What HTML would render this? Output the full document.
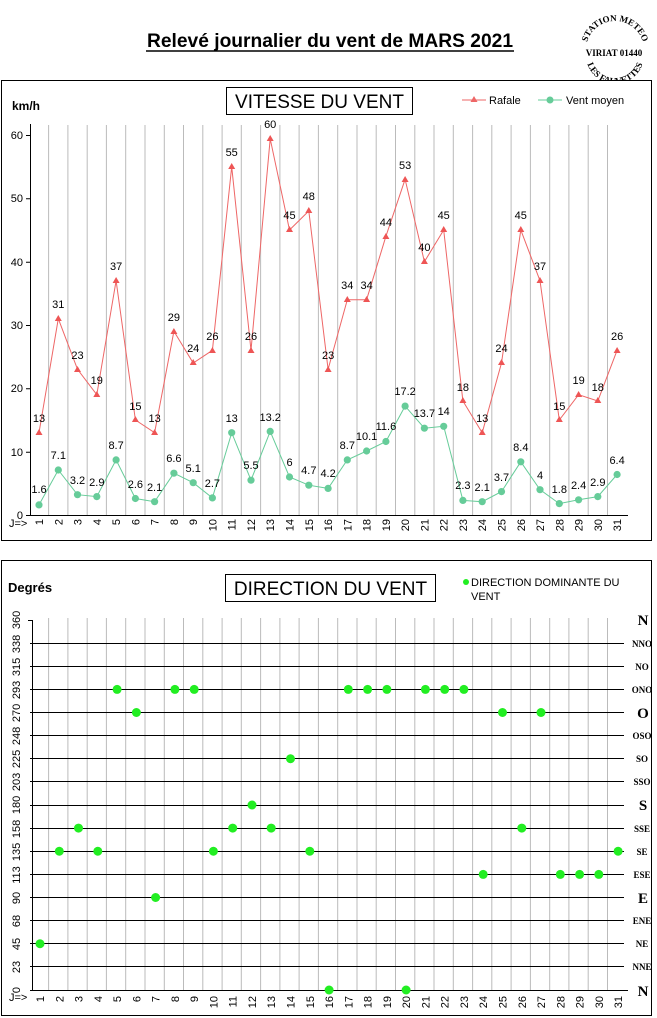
<!DOCTYPE html>
<html><head><meta charset="utf-8"><style>
body{margin:0;background:#fff;width:657px;height:1018px;overflow:hidden}
svg{display:block;font-family:"Liberation Sans",sans-serif}
</style></head><body>
<svg width="657" height="1018" viewBox="0 0 657 1018">
<text x="330" y="47" text-anchor="middle" font-size="19" font-weight="bold" textLength="366" lengthAdjust="spacingAndGlyphs">Relevé journalier du vent de MARS 2021</text>
<line x1="146" y1="51" x2="514" y2="51" stroke="#000" stroke-width="1.5"/>
<!-- stamp -->
<g font-family="Liberation Serif,serif" font-weight="bold" font-size="9">
<path id="arcT" d="M586 50 A29 29 0 0 1 644 50" fill="none"/>
<path id="arcB" d="M586 55 A29 29 0 0 0 644 55" fill="none"/>
<text><textPath href="#arcT" startOffset="50%" text-anchor="middle">STATION METEO</textPath></text>
<text><textPath href="#arcB" startOffset="50%" text-anchor="middle">LES FAUVETTES</textPath></text>
<text x="614" y="56" text-anchor="middle" font-size="9">VIRIAT 01440</text>
</g>
<!-- top box -->
<rect x="1.5" y="80.5" width="650" height="460" fill="#fff" stroke="#000"/>
<text x="12" y="110" font-size="12" font-weight="bold">km/h</text>
<rect x="226.5" y="87.5" width="186" height="27" fill="#fff" stroke="#000"/>
<text x="319.5" y="108" text-anchor="middle" font-size="19">VITESSE DU VENT</text>
<line x1="462" y1="100" x2="486" y2="100" stroke="#e66"/><path d="M474 96l3.5 6h-7z" fill="#e66"/>
<text x="489" y="104" font-size="11">Rafale</text>
<line x1="538" y1="100" x2="562" y2="100" stroke="#6c9"/><circle cx="550" cy="100" r="3.5" fill="#6c9"/>
<text x="566" y="104" font-size="11">Vent moyen</text>
<path d="M48.6 125V515M67.9 125V515M87.2 125V515M106.4 125V515M125.7 125V515M145 125V515M164.3 125V515M183.5 125V515M202.8 125V515M222.1 125V515M241.3 125V515M260.6 125V515M279.9 125V515M299.1 125V515M318.4 125V515M337.7 125V515M357 125V515M376.2 125V515M395.5 125V515M414.8 125V515M434 125V515M453.3 125V515M472.6 125V515M491.8 125V515M511.1 125V515M530.4 125V515M549.7 125V515M568.9 125V515M588.2 125V515M607.5 125V515" stroke="#bbb" stroke-width="1"/>
<path d="M30.5 124V515.5H628M26 515.5h4M26 452.2h4M26 388.8h4M26 325.5h4M26 262.2h4M26 198.8h4M26 135.5h4" stroke="#000" fill="none"/>
<g font-size="11" text-anchor="end"><text x="23" y="519">0</text><text x="23" y="456">10</text><text x="23" y="392">20</text><text x="23" y="329">30</text><text x="23" y="266">40</text><text x="23" y="202">50</text><text x="23" y="139">60</text></g>
<polyline fill="none" stroke="#e66" points="39,432.7 58.3,318.7 77.5,369.3 96.8,394.7 116.1,280.7 135.4,420 154.6,432.7 173.9,331.3 193.2,363 212.4,350.3 231.7,166.7 251,350.3 270.2,138.8 289.5,230 308.8,211 328.1,369.3 347.3,299.7 366.6,299.7 385.9,236.3 405.1,179.3 424.4,261.7 443.7,230 462.9,401 482.2,432.7 501.5,363 520.8,230 540,280.7 559.3,420 578.6,394.7 597.8,401 617.1,350.3"/>
<g fill="#e55">
<path d="M39 429l3.5 6h-7z"/><path d="M58.3 315l3.5 6h-7z"/><path d="M77.5 366l3.5 6h-7z"/><path d="M96.8 391l3.5 6h-7z"/><path d="M116.1 277l3.5 6h-7z"/><path d="M135.4 416l3.5 6h-7z"/><path d="M154.6 429l3.5 6h-7z"/><path d="M173.9 328l3.5 6h-7z"/><path d="M193.2 359l3.5 6h-7z"/><path d="M212.4 347l3.5 6h-7z"/><path d="M231.7 163l3.5 6h-7z"/><path d="M251 347l3.5 6h-7z"/><path d="M270.2 135l3.5 6h-7z"/><path d="M289.5 226l3.5 6h-7z"/><path d="M308.8 207l3.5 6h-7z"/><path d="M328.1 366l3.5 6h-7z"/><path d="M347.3 296l3.5 6h-7z"/><path d="M366.6 296l3.5 6h-7z"/><path d="M385.9 233l3.5 6h-7z"/><path d="M405.1 176l3.5 6h-7z"/><path d="M424.4 258l3.5 6h-7z"/><path d="M443.7 226l3.5 6h-7z"/><path d="M462.9 397l3.5 6h-7z"/><path d="M482.2 429l3.5 6h-7z"/><path d="M501.5 359l3.5 6h-7z"/><path d="M520.8 226l3.5 6h-7z"/><path d="M540 277l3.5 6h-7z"/><path d="M559.3 416l3.5 6h-7z"/><path d="M578.6 391l3.5 6h-7z"/><path d="M597.8 397l3.5 6h-7z"/><path d="M617.1 347l3.5 6h-7z"/>
</g>
<g font-size="11" text-anchor="middle">
<text x="39" y="422">13</text><text x="58.3" y="308">31</text><text x="77.5" y="359">23</text><text x="96.8" y="384">19</text><text x="116.1" y="270">37</text><text x="135.4" y="410">15</text><text x="154.6" y="422">13</text><text x="173.9" y="321">29</text><text x="193.2" y="352">24</text><text x="212.4" y="340">26</text><text x="231.7" y="156">55</text><text x="251" y="340">26</text><text x="270.2" y="128">60</text><text x="289.5" y="219">45</text><text x="308.8" y="200">48</text><text x="328.1" y="359">23</text><text x="347.3" y="289">34</text><text x="366.6" y="289">34</text><text x="385.9" y="226">44</text><text x="405.1" y="169">53</text><text x="424.4" y="251">40</text><text x="443.7" y="219">45</text><text x="462.9" y="391">18</text><text x="482.2" y="422">13</text><text x="501.5" y="352">24</text><text x="520.8" y="219">45</text><text x="540" y="270">37</text><text x="559.3" y="410">15</text><text x="578.6" y="384">19</text><text x="597.8" y="391">18</text><text x="617.1" y="340">26</text>
</g>
<polyline fill="none" stroke="#6c9" points="39,504.9 58.3,470 77.5,494.7 96.8,496.6 116.1,459.9 135.4,498.5 154.6,501.7 173.9,473.2 193.2,482.7 212.4,497.9 231.7,432.7 251,480.2 270.2,431.4 289.5,477 308.8,485.2 328.1,488.4 347.3,459.9 366.6,451 385.9,441.5 405.1,406.1 424.4,428.2 443.7,426.3 462.9,500.4 482.2,501.7 501.5,491.6 520.8,461.8 540,489.7 559.3,503.6 578.6,499.8 597.8,496.6 617.1,474.5"/>
<g fill="#6c9">
<circle cx="39" cy="504.9" r="3.6"/><circle cx="58.3" cy="470" r="3.6"/><circle cx="77.5" cy="494.7" r="3.6"/><circle cx="96.8" cy="496.6" r="3.6"/><circle cx="116.1" cy="459.9" r="3.6"/><circle cx="135.4" cy="498.5" r="3.6"/><circle cx="154.6" cy="501.7" r="3.6"/><circle cx="173.9" cy="473.2" r="3.6"/><circle cx="193.2" cy="482.7" r="3.6"/><circle cx="212.4" cy="497.9" r="3.6"/><circle cx="231.7" cy="432.7" r="3.6"/><circle cx="251" cy="480.2" r="3.6"/><circle cx="270.2" cy="431.4" r="3.6"/><circle cx="289.5" cy="477" r="3.6"/><circle cx="308.8" cy="485.2" r="3.6"/><circle cx="328.1" cy="488.4" r="3.6"/><circle cx="347.3" cy="459.9" r="3.6"/><circle cx="366.6" cy="451" r="3.6"/><circle cx="385.9" cy="441.5" r="3.6"/><circle cx="405.1" cy="406.1" r="3.6"/><circle cx="424.4" cy="428.2" r="3.6"/><circle cx="443.7" cy="426.3" r="3.6"/><circle cx="462.9" cy="500.4" r="3.6"/><circle cx="482.2" cy="501.7" r="3.6"/><circle cx="501.5" cy="491.6" r="3.6"/><circle cx="520.8" cy="461.8" r="3.6"/><circle cx="540" cy="489.7" r="3.6"/><circle cx="559.3" cy="503.6" r="3.6"/><circle cx="578.6" cy="499.8" r="3.6"/><circle cx="597.8" cy="496.6" r="3.6"/><circle cx="617.1" cy="474.5" r="3.6"/>
</g>
<g font-size="11" text-anchor="middle">
<text x="39" y="493">1.6</text><text x="58.3" y="459">7.1</text><text x="77.5" y="484">3.2</text><text x="96.8" y="486">2.9</text><text x="116.1" y="449">8.7</text><text x="135.4" y="488">2.6</text><text x="154.6" y="491">2.1</text><text x="173.9" y="462">6.6</text><text x="193.2" y="472">5.1</text><text x="212.4" y="487">2.7</text><text x="231.7" y="422">13</text><text x="251" y="469">5.5</text><text x="270.2" y="421">13.2</text><text x="289.5" y="466">6</text><text x="308.8" y="474">4.7</text><text x="328.1" y="477">4.2</text><text x="347.3" y="449">8.7</text><text x="366.6" y="440">10.1</text><text x="385.9" y="430">11.6</text><text x="405.1" y="395">17.2</text><text x="424.4" y="417">13.7</text><text x="443.7" y="415">14</text><text x="462.9" y="489">2.3</text><text x="482.2" y="491">2.1</text><text x="501.5" y="481">3.7</text><text x="520.8" y="451">8.4</text><text x="540" y="479">4</text><text x="559.3" y="493">1.8</text><text x="578.6" y="489">2.4</text><text x="597.8" y="486">2.9</text><text x="617.1" y="464">6.4</text>
</g>
<text x="9" y="527" font-size="11">J=&gt;</text>
<g font-size="11" text-anchor="end">
<text transform="translate(43,519) rotate(-90)">1</text><text transform="translate(62.3,519) rotate(-90)">2</text><text transform="translate(81.5,519) rotate(-90)">3</text><text transform="translate(100.8,519) rotate(-90)">4</text><text transform="translate(120.1,519) rotate(-90)">5</text><text transform="translate(139.4,519) rotate(-90)">6</text><text transform="translate(158.6,519) rotate(-90)">7</text><text transform="translate(177.9,519) rotate(-90)">8</text><text transform="translate(197.2,519) rotate(-90)">9</text><text transform="translate(216.4,519) rotate(-90)">10</text><text transform="translate(235.7,519) rotate(-90)">11</text><text transform="translate(255,519) rotate(-90)">12</text><text transform="translate(274.2,519) rotate(-90)">13</text><text transform="translate(293.5,519) rotate(-90)">14</text><text transform="translate(312.8,519) rotate(-90)">15</text><text transform="translate(332.1,519) rotate(-90)">16</text><text transform="translate(351.3,519) rotate(-90)">17</text><text transform="translate(370.6,519) rotate(-90)">18</text><text transform="translate(389.9,519) rotate(-90)">19</text><text transform="translate(409.1,519) rotate(-90)">20</text><text transform="translate(428.4,519) rotate(-90)">21</text><text transform="translate(447.7,519) rotate(-90)">22</text><text transform="translate(466.9,519) rotate(-90)">23</text><text transform="translate(486.2,519) rotate(-90)">24</text><text transform="translate(505.5,519) rotate(-90)">25</text><text transform="translate(524.8,519) rotate(-90)">26</text><text transform="translate(544,519) rotate(-90)">27</text><text transform="translate(563.3,519) rotate(-90)">28</text><text transform="translate(582.6,519) rotate(-90)">29</text><text transform="translate(601.8,519) rotate(-90)">30</text><text transform="translate(621.1,519) rotate(-90)">31</text>
</g>
<!-- bottom box -->
<rect x="1.5" y="560.5" width="650" height="455" fill="#fff" stroke="#000"/>
<text x="8" y="592" font-size="13" font-weight="bold">Degrés</text>
<rect x="225.5" y="574.5" width="210" height="27" fill="#fff" stroke="#000"/>
<text x="330.5" y="595" text-anchor="middle" font-size="19">DIRECTION DU VENT</text>
<circle cx="466" cy="582" r="3" fill="#2e2"/>
<text x="471" y="586" font-size="11">DIRECTION DOMINANTE DU</text>
<text x="471" y="600" font-size="11">VENT</text>
<path d="M48.6 618V990M67.9 618V990M87.2 618V990M106.4 618V990M125.7 618V990M145 618V990M164.3 618V990M183.5 618V990M202.8 618V990M222.1 618V990M241.3 618V990M260.6 618V990M279.9 618V990M299.1 618V990M318.4 618V990M337.7 618V990M357 618V990M376.2 618V990M395.5 618V990M414.8 618V990M434 618V990M453.3 618V990M472.6 618V990M491.8 618V990M511.1 618V990M530.4 618V990M549.7 618V990M568.9 618V990M588.2 618V990M607.5 618V990" stroke="#bbb"/>
<path d="M30 966.5H624M30 943.5H624M30 920.5H624M30 897.5H624M30 874.5H624M30 851.5H624M30 828.5H624M30 805.5H624M30 781.5H624M30 758.5H624M30 735.5H624M30 712.5H624M30 689.5H624M30 666.5H624M30 643.5H624M30 990.5H628M32.5 620V990M28 620.5h4" stroke="#000" fill="none"/>
<g font-size="11" text-anchor="middle">
<text transform="translate(20,990) rotate(-90)">0</text><text transform="translate(20,967) rotate(-90)">23</text><text transform="translate(20,944) rotate(-90)">45</text><text transform="translate(20,921) rotate(-90)">68</text><text transform="translate(20,898) rotate(-90)">90</text><text transform="translate(20,875) rotate(-90)">113</text><text transform="translate(20,852) rotate(-90)">135</text><text transform="translate(20,829) rotate(-90)">158</text><text transform="translate(20,805) rotate(-90)">180</text><text transform="translate(20,782) rotate(-90)">203</text><text transform="translate(20,759) rotate(-90)">225</text><text transform="translate(20,736) rotate(-90)">248</text><text transform="translate(20,713) rotate(-90)">270</text><text transform="translate(20,690) rotate(-90)">293</text><text transform="translate(20,667) rotate(-90)">315</text><text transform="translate(20,644) rotate(-90)">338</text><text transform="translate(20,620) rotate(-90)">360</text>
</g>
<g font-family="Liberation Serif,serif" font-weight="bold" text-anchor="middle">
<text x="643" y="996" font-size="15">N</text><text x="642" y="970" font-size="9">NNE</text><text x="642" y="947" font-size="9">NE</text><text x="642" y="924" font-size="9">ENE</text><text x="643" y="903" font-size="15">E</text><text x="642" y="878" font-size="9">ESE</text><text x="642" y="855" font-size="9">SE</text><text x="642" y="832" font-size="9">SSE</text><text x="643" y="810" font-size="15">S</text><text x="642" y="785" font-size="9">SSO</text><text x="642" y="762" font-size="9">SO</text><text x="642" y="739" font-size="9">OSO</text><text x="643" y="718" font-size="15">O</text><text x="642" y="693" font-size="9">ONO</text><text x="642" y="670" font-size="9">NO</text><text x="642" y="647" font-size="9">NNO</text><text x="643" y="625" font-size="15">N</text>
</g>
<g fill="#2e2">
<circle cx="40" cy="943.75" r="4.5"/><circle cx="59.3" cy="851.25" r="4.5"/><circle cx="78.5" cy="828.1" r="4.5"/><circle cx="97.8" cy="851.25" r="4.5"/><circle cx="117.1" cy="689.4" r="4.5"/><circle cx="136.4" cy="712.5" r="4.5"/><circle cx="155.6" cy="897.5" r="4.5"/><circle cx="174.9" cy="689.4" r="4.5"/><circle cx="194.2" cy="689.4" r="4.5"/><circle cx="213.4" cy="851.25" r="4.5"/><circle cx="232.7" cy="828.1" r="4.5"/><circle cx="252" cy="805" r="4.5"/><circle cx="271.2" cy="828.1" r="4.5"/><circle cx="290.5" cy="758.75" r="4.5"/><circle cx="309.8" cy="851.25" r="4.5"/><circle cx="329.1" cy="990" r="4.5"/><circle cx="348.3" cy="689.4" r="4.5"/><circle cx="367.6" cy="689.4" r="4.5"/><circle cx="386.9" cy="689.4" r="4.5"/><circle cx="406.1" cy="990" r="4.5"/><circle cx="425.4" cy="689.4" r="4.5"/><circle cx="444.7" cy="689.4" r="4.5"/><circle cx="463.9" cy="689.4" r="4.5"/><circle cx="483.2" cy="874.4" r="4.5"/><circle cx="502.5" cy="712.5" r="4.5"/><circle cx="521.8" cy="828.1" r="4.5"/><circle cx="541" cy="712.5" r="4.5"/><circle cx="560.3" cy="874.4" r="4.5"/><circle cx="579.6" cy="874.4" r="4.5"/><circle cx="598.8" cy="874.4" r="4.5"/><circle cx="618.1" cy="851.25" r="4.5"/>
</g>
<text x="9" y="1001" font-size="11">J=&gt;</text>
<g font-size="11" text-anchor="end">
<text transform="translate(44,996) rotate(-90)">1</text><text transform="translate(63.3,996) rotate(-90)">2</text><text transform="translate(82.5,996) rotate(-90)">3</text><text transform="translate(101.8,996) rotate(-90)">4</text><text transform="translate(121.1,996) rotate(-90)">5</text><text transform="translate(140.4,996) rotate(-90)">6</text><text transform="translate(159.6,996) rotate(-90)">7</text><text transform="translate(178.9,996) rotate(-90)">8</text><text transform="translate(198.2,996) rotate(-90)">9</text><text transform="translate(217.4,996) rotate(-90)">10</text><text transform="translate(236.7,996) rotate(-90)">11</text><text transform="translate(256,996) rotate(-90)">12</text><text transform="translate(275.2,996) rotate(-90)">13</text><text transform="translate(294.5,996) rotate(-90)">14</text><text transform="translate(313.8,996) rotate(-90)">15</text><text transform="translate(333.1,996) rotate(-90)">16</text><text transform="translate(352.3,996) rotate(-90)">17</text><text transform="translate(371.6,996) rotate(-90)">18</text><text transform="translate(390.9,996) rotate(-90)">19</text><text transform="translate(410.1,996) rotate(-90)">20</text><text transform="translate(429.4,996) rotate(-90)">21</text><text transform="translate(448.7,996) rotate(-90)">22</text><text transform="translate(467.9,996) rotate(-90)">23</text><text transform="translate(487.2,996) rotate(-90)">24</text><text transform="translate(506.5,996) rotate(-90)">25</text><text transform="translate(525.8,996) rotate(-90)">26</text><text transform="translate(545,996) rotate(-90)">27</text><text transform="translate(564.3,996) rotate(-90)">28</text><text transform="translate(583.6,996) rotate(-90)">29</text><text transform="translate(602.8,996) rotate(-90)">30</text><text transform="translate(622.1,996) rotate(-90)">31</text>
</g>
</svg>
</body></html>
